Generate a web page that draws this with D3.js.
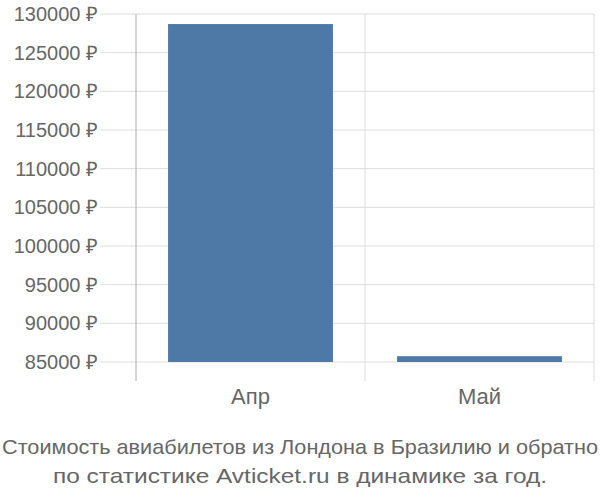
<!DOCTYPE html>
<html>
<head>
<meta charset="utf-8">
<script src="https://cdn.jsdelivr.net/npm/d3@7"></script>
<style>
  body { margin: 0; background: #fff; }
  svg { font-family: "Liberation Sans", Arial, sans-serif; }
</style>
</head>
<body>
<div class="chart"></div>
<script>
const months = ["Апр", "Май"];
const prices = [128700, 85750];
const yTicks = [85000, 90000, 95000, 100000, 105000, 110000, 115000, 120000, 125000, 130000];
const titleLines = [
  "Стоимость авиабилетов из Лондона в Бразилию и обратно",
  "по статистике Avticket.ru в динамике за год."
];
const titleWidths = [596, 494];

const width = 600, height = 500;
const plotLeft = 136, plotRight = 594, plotTop = 14, plotBottom = 362;

const svg = d3.select(".chart").append("svg")
  .attr("width", width)
  .attr("height", height);

const x = d3.scaleBand().domain(months).range([plotLeft, plotRight]).padding(0);
const y = d3.scaleLinear().domain([85000, 130000]).range([plotBottom, plotTop]);

// horizontal grid lines
svg.append("g")
  .selectAll("line")
  .data(yTicks)
  .join("line")
  .attr("x1", 100).attr("x2", plotRight)
  .attr("y1", d => y(d)).attr("y2", d => y(d))
  .attr("stroke", "#dddddd")
  .attr("stroke-width", 1);

// vertical grid lines between categories
const bounds = months.map(m => x(m)).concat([x(months[months.length - 1]) + x.bandwidth()]);
svg.append("g")
  .selectAll("line")
  .data(bounds)
  .join("line")
  .attr("x1", d => d).attr("x2", d => d)
  .attr("y1", plotTop).attr("y2", 381)
  .attr("stroke", (d, i) => i === 0 ? "#aaaaaa" : "#dddddd")
  .attr("stroke-width", 1);

// bars
const inner = x.bandwidth() * 0.72;
svg.append("g")
  .selectAll("rect")
  .data(prices)
  .join("rect")
  .attr("x", (d, i) => x(months[i]) + (x.bandwidth() - inner) / 2)
  .attr("width", inner)
  .attr("y", d => y(d))
  .attr("height", d => y(85000) - y(d))
  .attr("fill", "#4e79a7");

// y tick labels
svg.append("g")
  .selectAll("text")
  .data(yTicks)
  .join("text")
  .attr("x", 98)
  .attr("y", d => y(d))
  .attr("dy", "0.35em")
  .attr("text-anchor", "end")
  .attr("font-size", 20)
  .attr("fill", "#666")
  .text(d => d + " ₽");

// x labels
svg.append("g")
  .selectAll("text")
  .data(months)
  .join("text")
  .attr("x", d => x(d) + x.bandwidth() / 2)
  .attr("y", 404)
  .attr("text-anchor", "middle")
  .attr("font-size", 22)
  .attr("fill", "#666")
  .text(d => d);

// title
svg.append("g")
  .selectAll("text")
  .data(titleLines)
  .join("text")
  .attr("x", width / 2)
  .attr("y", (d, i) => 454 + i * 29)
  .attr("text-anchor", "middle")
  .attr("font-size", 21)
  .attr("textLength", (d, i) => titleWidths[i])
  .attr("lengthAdjust", "spacingAndGlyphs")
  .attr("fill", "#666")
  .text(d => d);
</script>
</body>
</html>
